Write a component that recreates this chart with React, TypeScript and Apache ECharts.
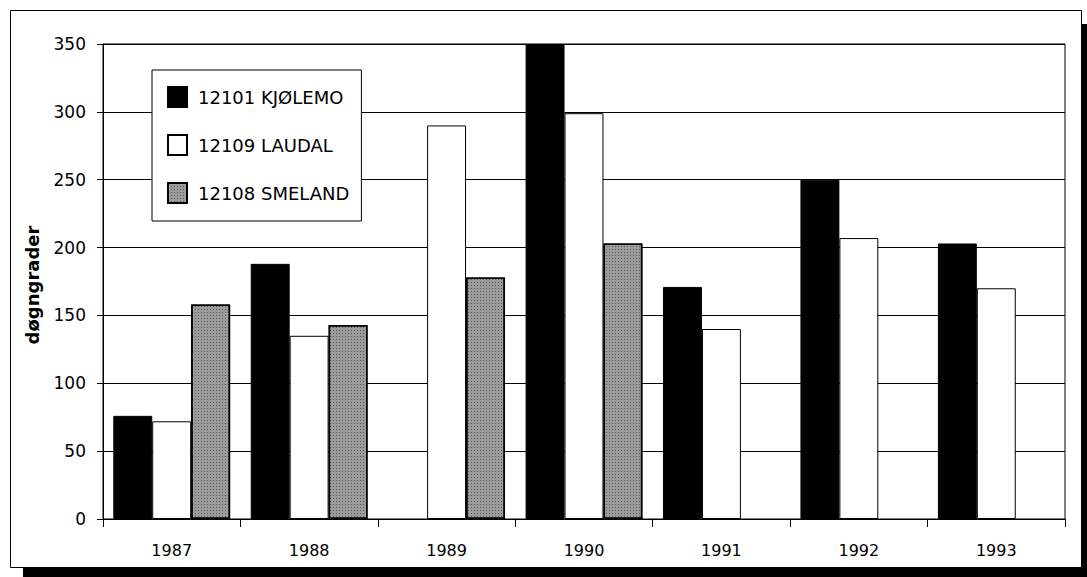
import React, { useEffect, useRef } from "react";
import * as echarts from "echarts";

const years = ["1987", "1988", "1989", "1990", "1991", "1992", "1993"];
const kjolemo = [76, 188, null, 350, 171, 250, 203];
const laudal = [72, 135, 290, 299, 140, 207, 170];
const smeland = [158, 143, 178, 203, null, null, null];
const seriesNames = ["12101 KJØLEMO", "12109 LAUDAL", "12108 SMELAND"];
const yTicks = { min: 0, max: 350, interval: 50 };
const yName = "døgngrader";

const FONT = "DejaVu Sans";

export default function App() {
  const ref = useRef<HTMLDivElement>(null);
  useEffect(() => {
    document.body.style.margin = "0";
    const chart = echarts.init(ref.current!, null, { renderer: "svg" });
    chart.setOption({
      animation: false,
      backgroundColor: "#fff",
      textStyle: { fontFamily: FONT, color: "#000" },
      graphic: [
        {
          type: "rect",
          z: -100,
          shape: { x: 23, y: 24, width: 1100, height: 600 },
          style: { fill: "#000" },
        },
        {
          type: "rect",
          z: -99,
          shape: { x: 10.5, y: 10.5, width: 1071, height: 557 },
          style: { fill: "#fff", stroke: "#000", lineWidth: 1 },
        },
        {
          type: "text",
          x: 32,
          y: 285,
          rotation: Math.PI / 2,
          style: {
            text: yName,
            fontFamily: FONT,
            fontSize: 18,
            fontWeight: "bold",
            fill: "#000",
            align: "center",
            verticalAlign: "middle",
          },
        },
      ],
      legend: {
        orient: "vertical",
        left: 152,
        top: 70,
        padding: [16, 12, 17, 15],
        itemWidth: 19,
        itemHeight: 20,
        itemGap: 26,
        icon: "rect",
        borderColor: "#000",
        borderWidth: 1,
        backgroundColor: "#fff",
        textStyle: { fontFamily: FONT, fontSize: 18, color: "#000", padding: [0, 0, 0, 6] },
        data: seriesNames,
      },
      grid: {
        left: 103,
        right: 22,
        top: 44,
        bottom: 58,
        show: true,
        borderColor: "#000",
        borderWidth: 1,
        backgroundColor: "transparent",
      },
      xAxis: {
        type: "category",
        data: years,
        axisLine: { lineStyle: { color: "#000", width: 1 } },
        axisTick: { show: true, length: 8, lineStyle: { color: "#000" } },
        axisLabel: { fontFamily: FONT, fontSize: 16, color: "#000", margin: 23 },
      },
      yAxis: {
        type: "value",
        min: yTicks.min,
        max: yTicks.max,
        interval: yTicks.interval,
        axisLine: { show: true, lineStyle: { color: "#000", width: 1 } },
        axisTick: { show: true, length: 6, lineStyle: { color: "#000" } },
        splitLine: { show: true, lineStyle: { color: "#000", width: 1 } },
        axisLabel: { fontFamily: FONT, fontSize: 17, color: "#000", margin: 17 },
      },
      series: [
        {
          name: seriesNames[0],
          type: "bar",
          data: kjolemo,
          barGap: "0%",
          barCategoryGap: "15%",
          itemStyle: { color: "#000", borderColor: "#000", borderWidth: 1 },
        },
        {
          name: seriesNames[1],
          type: "bar",
          data: laudal,
          barGap: "0%",
          barCategoryGap: "15%",
          itemStyle: { color: "#fff", borderColor: "#000", borderWidth: 1 },
        },
        {
          name: seriesNames[2],
          type: "bar",
          data: smeland,
          barGap: "0%",
          barCategoryGap: "15%",
          itemStyle: {
            color: "#9c9c9c",
            borderColor: "#000",
            borderWidth: 1.5,
            decal: {
              symbol: "rect",
              symbolSize: 1,
              color: "rgba(20,20,20,0.5)",
              dashArrayX: [1, 2],
              dashArrayY: [1, 2],
              rotation: 0,
            },
          },
        },
      ],
    });
    return () => chart.dispose();
  }, []);
  return <div ref={ref} style={{ width: 1087, height: 577 }} />;
}
